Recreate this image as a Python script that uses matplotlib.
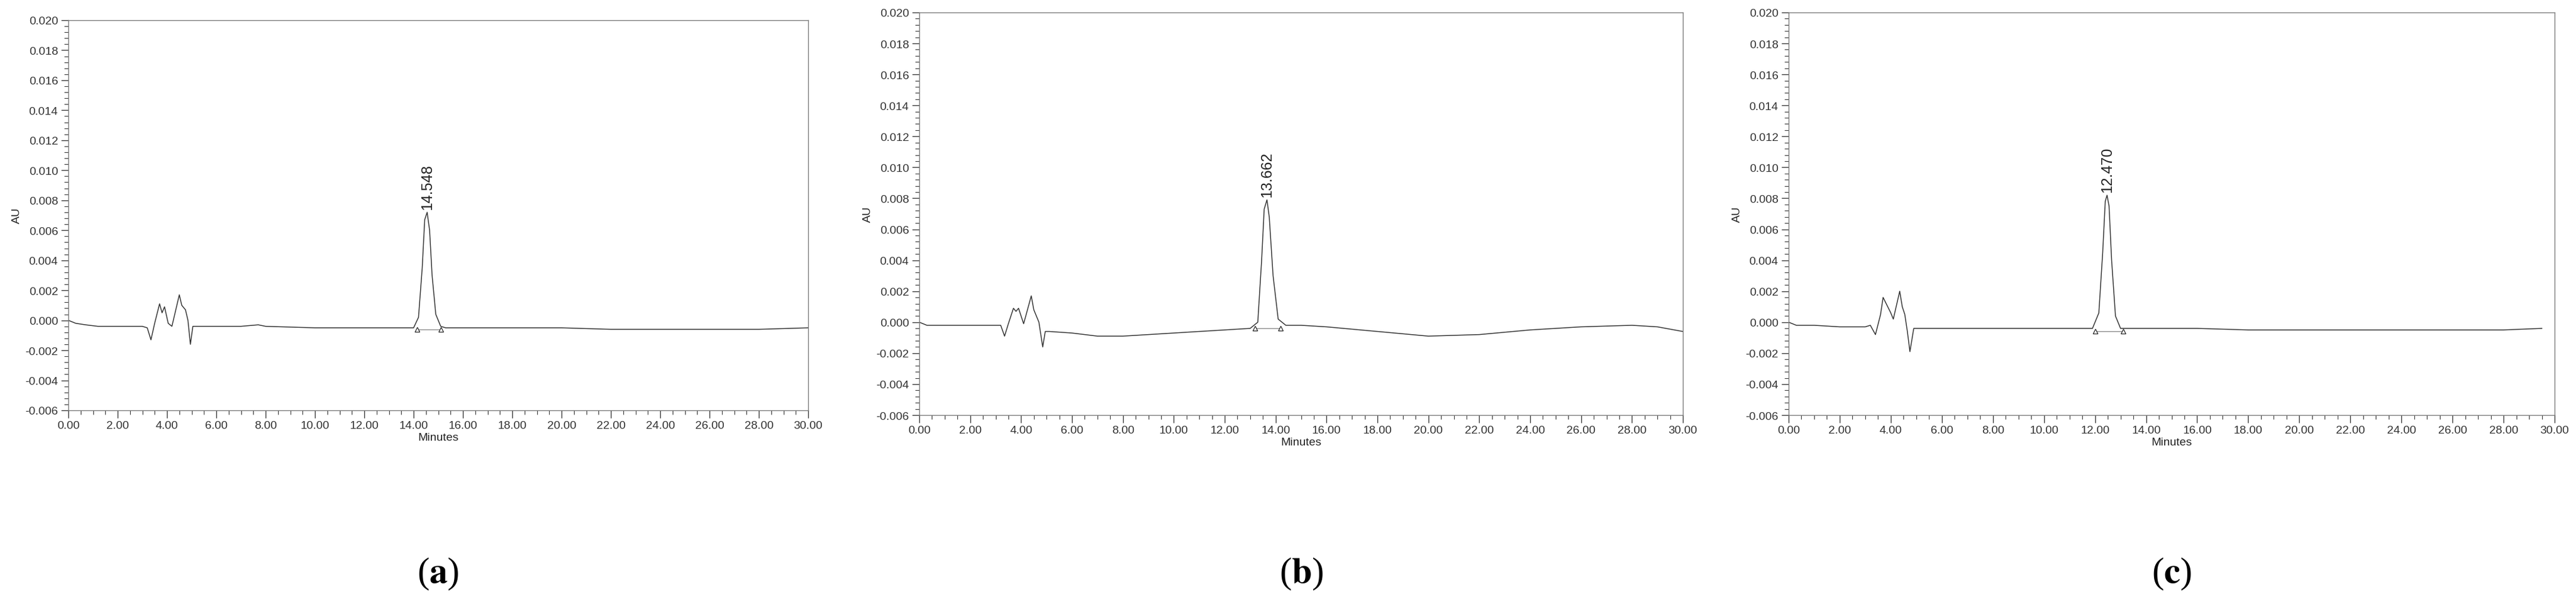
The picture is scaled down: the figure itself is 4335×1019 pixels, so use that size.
import matplotlib
matplotlib.use("Agg")
import matplotlib.pyplot as plt
from matplotlib.ticker import MultipleLocator, FormatStrFormatter

plt.rcParams["font.family"] = ["Liberation Sans", "DejaVu Sans"]
plt.rcParams["mathtext.fontset"] = "stix"

# ---- trace vertices (minutes, AU) ----
time_a = [0.0, 0.3, 0.7, 1.2, 2.0, 3.0, 3.2, 3.35, 3.5, 3.7, 3.8, 3.9, 4.05, 4.2, 4.5, 4.6, 4.75, 4.85, 4.95, 5.05,
          5.3, 7.0, 7.7, 8.0, 10.0, 12.0, 14.0, 14.2, 14.35, 14.45, 14.55, 14.65, 14.75, 14.9, 15.1, 15.3,
          18.0, 20.0, 22.0, 24.0, 26.0, 28.0, 30.0]
au_a = [0.0, -0.0002, -0.0003, -0.0004, -0.0004, -0.0004, -0.0005, -0.0013, -0.0002, 0.0011, 0.0005, 0.0009,
        -0.0002, -0.0004, 0.0017, 0.0010, 0.0007, 0.0000, -0.0016, -0.0004,
        -0.0004, -0.0004, -0.0003, -0.0004, -0.0005, -0.0005, -0.0005, 0.0002, 0.0035, 0.0067, 0.0072,
        0.0060, 0.0030, 0.0004, -0.0004, -0.0005,
        -0.0005, -0.0005, -0.0006, -0.0006, -0.0006, -0.0006, -0.0005]

time_b = [0.0, 0.3, 1.0, 3.0, 3.2, 3.35, 3.5, 3.7, 3.8, 3.9, 4.1, 4.4, 4.5, 4.7, 4.85, 4.95, 5.1, 6.0, 7.0, 8.0,
          10.0, 12.0, 13.0, 13.3, 13.45, 13.55, 13.66, 13.75, 13.9, 14.1, 14.4, 15.0, 16.0, 18.0, 20.0, 22.0,
          24.0, 26.0, 28.0, 29.0, 30.0]
au_b = [0.0, -0.0002, -0.0002, -0.0002, -0.0002, -0.0009, -0.0001, 0.0009, 0.0007, 0.0009, -0.0001, 0.0017,
        0.0008, 0.0000, -0.0016, -0.0006, -0.0006, -0.0007, -0.0009, -0.0009,
        -0.0007, -0.0005, -0.0004, 0.0000, 0.0040, 0.0073, 0.0079, 0.0068, 0.0030, 0.0002, -0.0002,
        -0.0002, -0.0003, -0.0006, -0.0009, -0.0008, -0.0005, -0.0003, -0.0002, -0.0003, -0.0006]

time_c = [0.0, 0.3, 1.0, 2.0, 3.0, 3.2, 3.3, 3.4, 3.6, 3.7, 3.85, 4.0, 4.1, 4.35, 4.45, 4.55, 4.65, 4.75,
          4.9, 6.0, 8.0, 10.0, 11.9, 12.15, 12.3, 12.4, 12.47, 12.55, 12.65, 12.8, 13.0, 14.0, 16.0, 18.0,
          20.0, 22.0, 24.0, 26.0, 28.0, 29.5]
au_c = [0.0, -0.0002, -0.0002, -0.0003, -0.0003, -0.0002, -0.0005, -0.0008, 0.0005, 0.0016, 0.0011, 0.0006,
        0.0002, 0.0020, 0.0010, 0.0005, -0.0006, -0.0019, -0.0004, -0.0004, -0.0004, -0.0004, -0.0004,
        0.0006, 0.0045, 0.0078, 0.0082, 0.0075, 0.0040, 0.0004, -0.0004, -0.0004, -0.0004, -0.0005,
        -0.0005, -0.0005, -0.0005, -0.0005, -0.0005, -0.0004]

peak_rt = [14.548, 13.662, 12.470]
peak_top = [0.0072, 0.0079, 0.0082]
peak_bounds = [(14.15, 15.1), (13.2, 14.2), (12.0, 13.1)]
bound_au = [(-0.0006, -0.0006), (-0.0004, -0.0004), (-0.0006, -0.0006)]
panel_labels = ["a", "b", "c"]

traces = [(time_a, au_a), (time_b, au_b), (time_c, au_c)]

# axes rectangles in pixels (x0, y0, x1, y1), converted to figure fractions below
W, H = 4335, 1020
rects = [(115, 35, 1360, 691), (1547, 22, 2832, 699), (3010, 22, 4299, 699)]

fig = plt.figure(figsize=(W / 100, H / 100), dpi=100)
for i, (x0, y0, x1, y1) in enumerate(rects):
    ax = fig.add_axes([x0 / W, 1 - y1 / H, (x1 - x0) / W, (y1 - y0) / H])
    t, v = traces[i]
    ax.plot(t, v, color="#333333", lw=1.1)
    lo, hi = peak_bounds[i]
    ax.plot([lo, hi], bound_au[i], color="#888888", lw=1.0)
    ax.plot([lo, hi], bound_au[i], ls="none", marker="^", ms=6, mfc="white", mec="#222222", mew=0.9)
    ax.text(peak_rt[i], peak_top[i] + 0.0002, f"{peak_rt[i]:.3f}", rotation=90,
            ha="center", va="bottom", fontsize=18, color="#222222")

    ax.set_xlim(0, 30)
    ax.set_ylim(-0.006, 0.020)
    ax.xaxis.set_major_locator(MultipleLocator(2))
    ax.xaxis.set_minor_locator(MultipleLocator(0.5))
    ax.yaxis.set_major_locator(MultipleLocator(0.002))
    ax.yaxis.set_minor_locator(MultipleLocator(0.0004))
    ax.xaxis.set_major_formatter(FormatStrFormatter("%.2f"))
    ax.yaxis.set_major_formatter(FormatStrFormatter("%.3f"))
    ax.tick_params(which="major", length=9, width=1, labelsize=14, colors="#333333")
    ax.tick_params(which="minor", length=5, width=0.8, colors="#333333")
    for s in ax.spines.values():
        s.set_color("#777777")
        s.set_linewidth(1.0)
    ax.set_xlabel("Minutes", fontsize=14, labelpad=2, color="#222222")
    ax.set_ylabel("AU", fontsize=14, labelpad=4, color="#222222")

    cx = (x0 + x1) / 2 / W
    fig.text(cx, 1 - 965 / H, rf"($\mathbf{{{panel_labels[i]}}}$)", ha="center", va="center",
             fontsize=44, family="Liberation Serif")

fig.savefig("out.png", dpi=100)
